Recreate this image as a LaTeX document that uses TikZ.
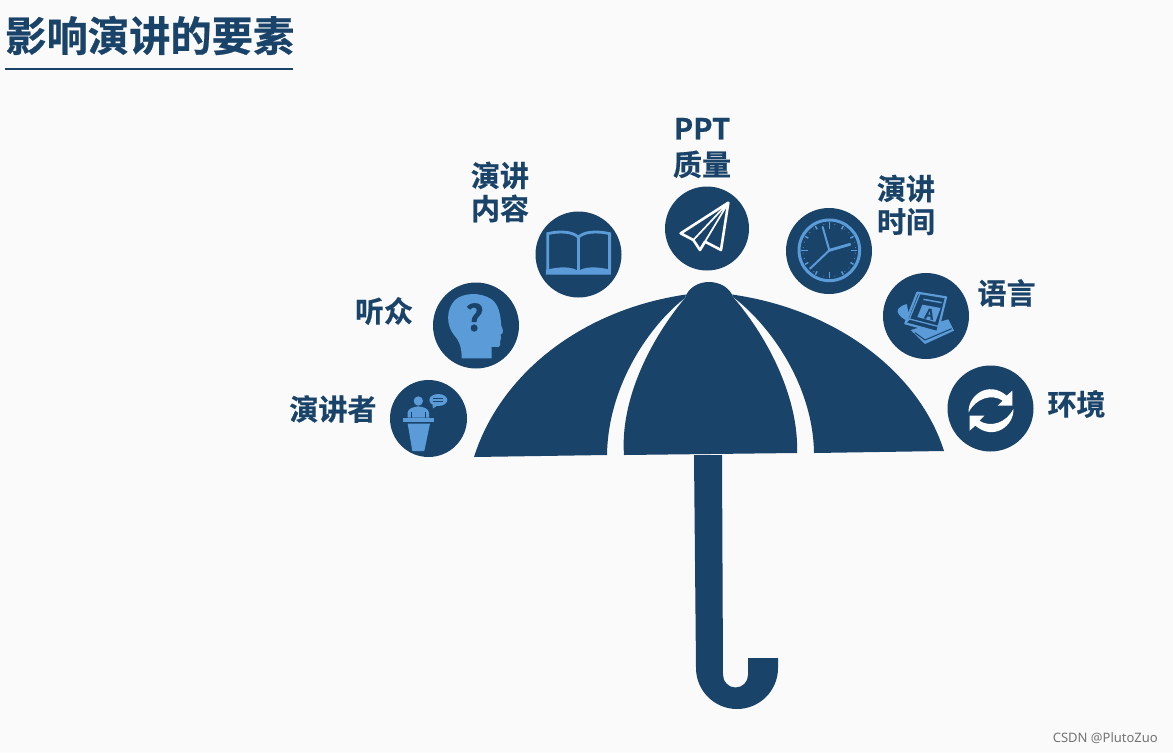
\documentclass[tikz,border=0pt]{standalone}
\usepackage{fontspec}
\newfontfamily\cjk{Noto Sans CJK SC}[BoldFont={Noto Sans CJK SC Bold},BoldFeatures={FakeBold=0.6}]
\setsansfont{Noto Sans}
\definecolor{navy}{HTML}{1A4369}
\definecolor{sky}{HTML}{5A9BD8}
\definecolor{paper}{HTML}{FAFAFA}
\tikzset{
 badge/.style={circle,fill=navy,minimum size=#1,inner sep=0pt,draw=none},
 lbl/.style={text=navy,font=\cjk\bfseries\fontsize{29}{33}\selectfont,inner sep=0pt,align=center},
}
\begin{document}
\begin{tikzpicture}[x=1pt,y=-1pt]
\useasboundingbox (0,0) rectangle (1173,753);
\fill[paper] (0,0) rectangle (1173,753);
% title
\node[anchor=west,text=navy,font=\cjk\bfseries\fontsize{41.3}{46}\selectfont,inner sep=0pt] (title) at (5,35.5) {影响演讲的要素};
\draw[navy,line width=2pt] (5,68.5) -- (293,68.5);
% canopy
\fill[navy] (474,457) .. controls (500,375) and (580,310) .. (686,294.5) -- (685,298) .. controls (650,325) and (608,385) .. (607,455) -- cycle;
\fill[navy] (944,451) .. controls (920,375) and (840,310) .. (732,294.5) -- (733,297) .. controls (770,325) and (813,385) .. (814,453) -- cycle;
\fill[navy] (624,455) .. controls (620,400) and (650,340) .. (685,298)
  .. controls (688,288) and (698,282) .. (709,282) .. controls (720,282) and (730,288) .. (733,297)
  .. controls (770,340) and (799,400) .. (797,453) -- cycle;
% handle
\fill[navy] (694,455) -- (696,668) arc[start angle=180,end angle=0,radius=41] -- (778,658) -- (748,658) -- (748,675) arc[start angle=0,end angle=180,radius=12.5] -- (722,455) -- cycle;
% badges
\node[badge=77pt] (speaker) at (428.5,418.5) {};
\node[badge=86pt] (audience) at (476,325.5) {};
\node[badge=86pt] (content) at (578.5,254.5) {};
\node[badge=84pt] (ppt) at (707,228.5) {};
\node[badge=86pt] (time) at (829,251) {};
\node[badge=86pt] (language) at (926,316) {};
\node[badge=86pt] (environment) at (990.5,408.5) {};
% labels
\node[lbl] (l1) at (333,409) {演讲者};
\node[lbl] (l2) at (384,311) {听众};
\node[lbl] (l3) at (500,192) {演讲\\内容};
\node[lbl] (l4) at (702,148) {PPT\\[3pt]质量};
\node[lbl] (l5) at (906,205) {演讲\\时间};
\node[lbl] (l6) at (1006.5,293) {语言};
\node[lbl] (l7) at (1076.5,404) {环境};
\node[anchor=east,text=black!55,font=\sffamily\fontsize{13}{14}\selectfont,inner sep=0pt] (mark) at (1158,738) {CSDN @PlutoZuo};
% book and head icons
\begin{scope}[shift={(380,200)},x=0.3333pt,y=-0.3333pt]
 \draw[sky,line width=2.8pt] (503,212) -- (503,101) .. controls (540,92) and (580,95) .. (595,112) .. controls (610,95) and (650,92) .. (689,101) -- (689,212);
 \draw[sky,line width=2.4pt] (595,112) -- (595,212);
 \fill[sky] (498,224) -- (498,210) .. controls (540,198) and (580,200) .. (595,214) .. controls (610,200) and (650,198) .. (693,210) -- (693,224) -- cycle;
 \fill[sky] (245,475) -- (335,475) -- (335,441) -- (356,441) .. controls (362,438) and (362,430) .. (360,425) .. controls (366,420) and (362,412) .. (362,404) .. controls (372,400) and (370,390) .. (364,378) .. controls (362,350) and (358,315) .. (335,298) .. controls (300,275) and (250,278) .. (225,300) .. controls (198,328) and (198,375) .. (222,405) .. controls (240,425) and (245,445) .. (245,475) -- cycle;
 \node[text=navy,font=\cjk\bfseries\fontsize{36}{36}\selectfont,inner sep=0pt] (qmark) at (284,352) {?};
\end{scope}
% speaker icon
\begin{scope}[shift={(395,385)},x=0.3333pt,y=-0.3333pt]
 \fill[sky] (70,48) circle[radius=14];
 \fill[sky] (38,98) -- (38,82) .. controls (40,70) and (55,66) .. (70,64) .. controls (85,66) and (100,70) .. (102,82) -- (102,98) -- cycle;
 \draw[navy,line width=0.8pt] (50,82) -- (50,98) (90,82) -- (90,98);
 \fill[sky] (25,100) rectangle (117,112);
 \fill[sky] (38,116) -- (105,116) -- (88,198) -- (52,198) -- cycle;
 \fill[sky] (130,45) ellipse[x radius=27,y radius=18];
 \fill[sky] (112,54) -- (114,70) -- (130,60) -- cycle;
 \draw[navy,line width=0.8pt] (115,40) -- (145,40) (115,49) -- (145,49);
\end{scope}
% paper plane
\begin{scope}[shift={(650,180)},x=0.3333pt,y=-0.3333pt]
 \draw[white,line width=2.6pt,line join=round] (235,68) -- (92,160) -- (130,180) -- (150,210) -- (165,185) -- (213,210) -- cycle;
 \draw[white,line width=1.7pt,line join=round] (235,68) -- (130,180) (235,68) -- (150,210) (235,68) -- (165,185);
\end{scope}
% clock
\begin{scope}[shift={(790,212)},x=0.3333pt,y=-0.3333pt]
 \draw[sky,line width=3pt] (118,115) circle[radius=91];
 \foreach \a in {0,90,180,270}{\draw[sky,line width=1.6pt] (118,115) ++(\a:84) -- ++(\a+180:20);}
 \foreach \a in {30,60,120,150,210,240,300,330}{\draw[sky,line width=1.4pt] (118,115) ++(\a:84) -- ++(\a+180:11);}
 \foreach \a in {6,18,42,54,78,102,126,138,162,174,186,198,222,234,258,282,306,318,342,354}{\fill[sky] (118,115) ++(\a:79) circle[radius=1.6];}
 \draw[sky,line width=2pt,line cap=round] (118,115) -- (98,45) (118,115) -- (60,170);
 \draw[sky,line width=2.8pt,line cap=round] (118,115) -- (180,97);
\end{scope}
% language book
\begin{scope}[shift={(890,280)},x=0.3333pt,y=-0.3333pt]
 \fill[sky] (50,72) .. controls (25,80) and (15,92) .. (28,105) .. controls (35,115) and (50,122) .. (62,126) -- cycle;
 \fill[sky] (62,150) -- (105,192) -- (192,152) -- (175,118) -- cycle;
 \draw[navy,line width=1pt] (75,158) -- (105,180) -- (185,146);
 \draw[sky,line width=2.2pt,line join=round,fill=navy] (82,38) -- (168,52) -- (142,156) -- (46,130) -- cycle;
 \draw[sky,line width=1.3pt] (46,130) -- (58,117) -- (148,140);
 \draw[sky,line width=1.3pt] (58,117) -- (90,40);
 \fill[sky] (97,74) -- (152,84) -- (136,126) -- (82,111) -- cycle;
 \draw[sky,line width=1.5pt] (100,58) -- (155,68);
 \node[text=navy,font=\cjk\bfseries\fontsize{14}{14}\selectfont,inner sep=0pt,rotate=-10] (letter) at (118,102) {A};
\end{scope}
% refresh arrows
\begin{scope}[shift={(955,375)},x=0.3333pt,y=-0.3333pt]
 \foreach \r in {0,180}{
 \fill[white,rotate around={\r:(108,107)}] (41,112) .. controls (38,62) and (100,15) .. (155,62) -- (172,47) -- (172,92) -- (128,92) -- (143,77) .. controls (110,55) and (62,70) .. (41,112) -- cycle;
 }
\end{scope}
\end{tikzpicture}
\end{document}
